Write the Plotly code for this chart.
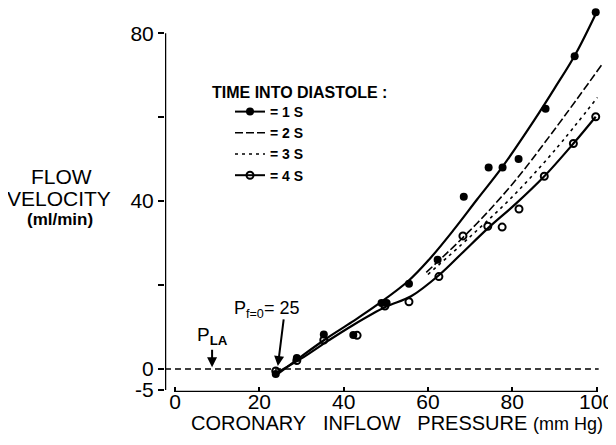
import plotly.graph_objects as go

# ---- data ----
# measured points, 1 s into diastole (filled)
press_1s = [23.9, 28.9, 35.3, 42.3, 49.0, 50.2, 55.5, 62.3, 68.5, 74.4, 77.7, 81.5, 87.9, 94.8, 99.8]
flow_1s = [-1.2, 2.6, 8.2, 8.1, 15.7, 15.7, 20.3, 26.0, 41.0, 48.0, 48.0, 50.0, 62.0, 74.5, 85.0]
# measured points, 4 s into diastole (open)
press_4s = [23.9, 28.9, 35.3, 43.2, 49.8, 55.5, 62.6, 68.3, 74.2, 77.6, 81.6, 87.6, 94.5, 99.8]
flow_4s = [-0.5, 2.0, 6.9, 8.0, 15.0, 16.0, 22.0, 31.7, 34.0, 33.8, 38.1, 45.9, 53.7, 60.1]

# fitted curves
curve_1s_x = [24, 30, 36, 42, 48, 55.4, 60.4, 66, 71.6, 77.7, 85.3, 90, 95, 100]
curve_1s_y = [-1.5, 3.0, 7.3, 11.2, 15.3, 21.0, 26.2, 33.0, 40.3, 48.2, 59.4, 66.8, 75.0, 85.0]
curve_2s_x = [59.6, 70, 80, 90, 101.4]
curve_2s_y = [23.0, 33.0, 44.0, 57.0, 72.7]
curve_3s_x = [60.0, 70, 80, 90, 100.2]
curve_3s_y = [22.5, 31.5, 41.0, 52.0, 64.7]
curve_4s_x = [24, 30, 36, 42, 50, 56, 62.8, 68, 74.2, 81, 87.6, 94.5, 99.8]
curve_4s_y = [-1.0, 2.5, 6.5, 10.3, 14.8, 17.3, 22.5, 27.5, 33.5, 39.5, 45.9, 53.7, 60.1]

x_ticks = [0, 20, 40, 60, 80, 100]
x_tick_text = ["0", "20", "40", "60", "80", "100"]
y_ticks = [-5, 0, 20, 40, 60, 80]
y_tick_text = ["-5", "0", "", "40", "", "80"]

legend_names = ["= 1 S", "= 2 S", "= 3 S", "= 4 S"]

FONT = "Liberation Sans, Arial, sans-serif"
BLACK = "black"

# the page body adds an 8px margin, so the figure is drawn 8px smaller and all
# reference pixel positions are shifted by that amount
OFF = 8
W, H = 616 - OFF, 445 - OFF
# plot-area geometry (reference pixels)
L, R, T, B = 165, 605, 8, 392
PW, PH = R - L, B - T


def px(xp):
    return (xp - L) / PW


def py(yp):
    return (B - yp) / PH


fig = go.Figure()

# curves
fig.add_trace(go.Scatter(x=curve_1s_x, y=curve_1s_y, mode="lines", line=dict(color=BLACK, width=2.2, shape="spline"),
                         showlegend=False, hoverinfo="skip"))
fig.add_trace(go.Scatter(x=curve_2s_x, y=curve_2s_y, mode="lines", line=dict(color=BLACK, width=1.6, dash="8px,3px", shape="spline"),
                         showlegend=False, hoverinfo="skip"))
fig.add_trace(go.Scatter(x=curve_3s_x, y=curve_3s_y, mode="lines", line=dict(color=BLACK, width=1.6, dash="3px,4px", shape="spline"),
                         showlegend=False, hoverinfo="skip"))
fig.add_trace(go.Scatter(x=curve_4s_x, y=curve_4s_y, mode="lines", line=dict(color=BLACK, width=2.2, shape="spline"),
                         showlegend=False, hoverinfo="skip"))

# points
fig.add_trace(go.Scatter(x=press_1s, y=flow_1s, mode="markers",
                         marker=dict(symbol="circle", size=8, color=BLACK), showlegend=False))
fig.add_trace(go.Scatter(x=press_4s, y=flow_4s, mode="markers",
                         marker=dict(symbol="circle-open", size=7, color=BLACK, line=dict(width=2)), showlegend=False))

# legend entries
fig.add_trace(go.Scatter(x=[None], y=[None], mode="lines+markers", name=legend_names[0],
                         line=dict(color=BLACK, width=2), marker=dict(symbol="circle", size=8, color=BLACK)))
fig.add_trace(go.Scatter(x=[None], y=[None], mode="lines", name=legend_names[1],
                         line=dict(color=BLACK, width=1.6, dash="8px,3px")))
fig.add_trace(go.Scatter(x=[None], y=[None], mode="lines", name=legend_names[2],
                         line=dict(color=BLACK, width=1.6, dash="3px,4px")))
fig.add_trace(go.Scatter(x=[None], y=[None], mode="lines+markers", name=legend_names[3],
                         line=dict(color=BLACK, width=2),
                         marker=dict(symbol="circle-open", size=7, color=BLACK, line=dict(width=2))))

# axis lines and zero line
fig.add_shape(type="line", xref="x", yref="y", x0=0, x1=100, y0=-5.5, y1=-5.5, line=dict(color=BLACK, width=2.5))
fig.add_shape(type="line", xref="x", yref="y", x0=-2.37, x1=-2.37, y0=-5, y1=80, line=dict(color=BLACK, width=2.5))
fig.add_shape(type="line", xref="x", yref="y", x0=-2.37, x1=100.5, y0=0, y1=0,
              line=dict(color=BLACK, width=1.5, dash="6px,4px"))

# annotations
fig.add_annotation(x=8.8, y=0.4, xref="x", yref="y", text="P<sub><b>LA</b></sub>", showarrow=True,
                   ax=0, ay=-31, arrowhead=2, arrowsize=1, arrowwidth=2, arrowcolor=BLACK,
                   font=dict(family=FONT, size=19, color=BLACK))
fig.add_annotation(x=24.4, y=0.7, xref="x", yref="y", text="", showarrow=True, ax=6, ay=-48,
                   arrowhead=2, arrowsize=1, arrowwidth=2, arrowcolor=BLACK)
fig.add_annotation(x=px(266), y=py(309), xref="paper", yref="paper", text="P<sub>f=0</sub>= 25", showarrow=False,
                   xanchor="center", yanchor="middle",
                   font=dict(family=FONT, size=18, color=BLACK))

fig.add_annotation(x=px(210), y=py(92), xref="paper", yref="paper",
                   text="TIME INTO DIASTOLE :", showarrow=False, xanchor="left", yanchor="middle",
                   font=dict(family=FONT, size=16, color=BLACK, weight="bold"))

fig.add_annotation(x=px(61), y=py(176), xref="paper", yref="paper",
                   text="FLOW", showarrow=False, xanchor="center", yanchor="middle",
                   font=dict(family=FONT, size=21, color=BLACK))
fig.add_annotation(x=px(59), y=py(198), xref="paper", yref="paper",
                   text="VELOCITY", showarrow=False, xanchor="center", yanchor="middle",
                   font=dict(family=FONT, size=21, color=BLACK))
fig.add_annotation(x=px(60), y=py(220), xref="paper", yref="paper",
                   text="(ml/min)", showarrow=False, xanchor="center", yanchor="middle",
                   font=dict(family=FONT, size=17, color=BLACK, weight="bold"))
fig.add_annotation(x=px(397), y=py(423), xref="paper", yref="paper",
                   text="CORONARY\u00a0\u00a0\u00a0INFLOW\u00a0\u00a0\u00a0PRESSURE <span style='font-size:18px'>(mm Hg)</span>",
                   showarrow=False, xanchor="center", yanchor="middle",
                   font=dict(family=FONT, size=20, color=BLACK))

fig.update_layout(
    width=W, height=H,
    margin=dict(l=L - OFF, r=616 - R, t=T - OFF, b=445 - B, autoexpand=False),
    paper_bgcolor="white", plot_bgcolor="white",
    font=dict(family=FONT, color=BLACK),
    showlegend=True,
    legend=dict(x=px(230), y=py(96), xanchor="left", yanchor="top",
                bgcolor="rgba(0,0,0,0)", font=dict(family=FONT, size=14, color=BLACK, weight="bold"),
                tracegroupgap=0, itemwidth=30),
    xaxis=dict(range=[-2.37, 102], showgrid=False, zeroline=False, showline=False, automargin=False,
               tickvals=x_ticks, ticktext=x_tick_text, ticks="inside", ticklen=5, tickwidth=2,
               ticklabelstandoff=-5,
               tickcolor=BLACK, tickfont=dict(family=FONT, size=21, color=BLACK)),
    yaxis=dict(range=[-5.5, 86], showgrid=False, zeroline=False, showline=False, automargin=False,
               tickvals=y_ticks, ticktext=y_tick_text, ticks="outside", ticklen=6, tickwidth=2,
               tickcolor=BLACK, tickfont=dict(family=FONT, size=21, color=BLACK)),
)

fig.write_html("out.html")
